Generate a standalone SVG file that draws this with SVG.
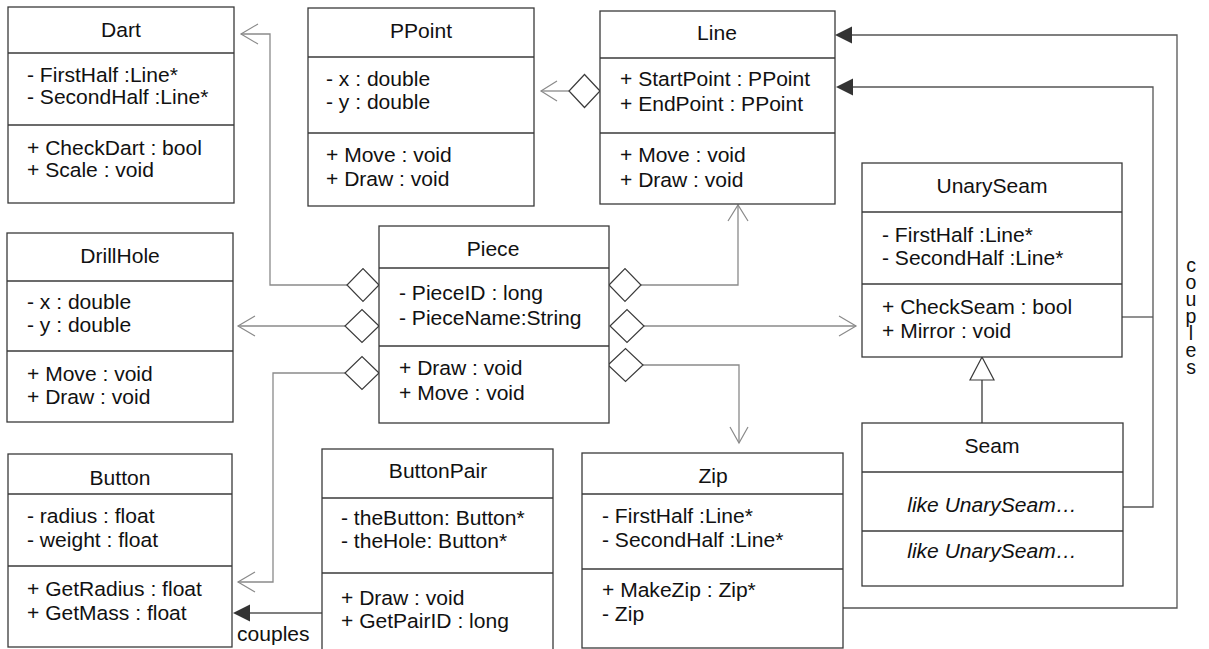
<svg xmlns="http://www.w3.org/2000/svg" width="1209" height="649" viewBox="0 0 1209 649">
<style>
.box{fill:#fff;stroke:#3a3a3a;stroke-width:1.3}
.div{stroke:#3a3a3a;stroke-width:1.3}
.t{font-family:"Liberation Sans",Arial,sans-serif;font-size:19.5px;fill:#111}
.c{text-anchor:middle}
.i{font-style:italic}
.v{writing-mode:vertical-rl;text-orientation:upright;letter-spacing:-5px}
.agg{fill:none;stroke:#8a8a8a;stroke-width:1.3}
.dia{fill:#fff;stroke:#3a3a3a;stroke-width:1.2}
.open{fill:none;stroke:#8a8a8a;stroke-width:1.2}
.cpl{fill:none;stroke:#555;stroke-width:1.3}
.fill{fill:#333;stroke:none}
.gen{fill:#fff;stroke:#3a3a3a;stroke-width:1.2}
</style>
<rect width="1209" height="649" fill="#fff"/>

<g id="connectors">
  <!-- Piece -> Dart -->
  <polyline class="agg" points="347,285 270,285 270,34 241,34"/>
  <polyline class="open" points="258,24 241,34 258,44"/>
  <polygon class="dia" points="379,285 363,268.5 347,285 363,301.5"/>
  <!-- Piece -> DrillHole -->
  <polyline class="agg" points="345,326 238,326"/>
  <polyline class="open" points="255,316 238,326 255,336"/>
  <polygon class="dia" points="379,326 362,309.5 345,326 362,342.5"/>
  <!-- Piece -> Button -->
  <polyline class="agg" points="345,373 273,373 273,582 238,582"/>
  <polyline class="open" points="255,572 238,582 255,592"/>
  <polygon class="dia" points="379,373 362,356.5 345,373 362,389.5"/>
  <!-- Line -> PPoint -->
  <polyline class="agg" points="569,91 541,91"/>
  <polyline class="open" points="557,81 541,91 557,101"/>
  <polygon class="dia" points="600,91 584.5,74.5 569,91 584.5,107.5"/>
  <!-- Piece -> Line -->
  <polyline class="agg" points="641,285 738,285 738,205"/>
  <polyline class="open" points="728,221 738,205 748,221"/>
  <polygon class="dia" points="609,285 625,268.5 641,285 625,301.5"/>
  <!-- Piece -> UnarySeam -->
  <polyline class="agg" points="644,326 856,326"/>
  <polyline class="open" points="839,316 856,326 839,336"/>
  <polygon class="dia" points="610,326 627,309.5 644,326 627,342.5"/>
  <!-- Piece -> Zip -->
  <polyline class="agg" points="643,365 739,365 739,443"/>
  <polyline class="open" points="730,427 739,443 748,427"/>
  <polygon class="dia" points="608,365 625.5,348.5 643,365 625.5,381.5"/>
  <!-- Seam generalizes UnarySeam -->
  <line class="div" x1="982" y1="380" x2="982" y2="423"/>
  <polygon class="gen" points="982,357 970,380 994,380"/>
  <!-- UnarySeam / Seam couples Line -->
  <polyline class="cpl" points="1122,317 1153,317"/>
  <polyline class="cpl" points="1123,507 1153,507 1153,87 853,87"/>
  <polygon class="fill" points="836,87 853,78.5 853,95.5"/>
  <!-- Zip couples Line -->
  <polyline class="cpl" points="843,608 1177,608 1177,35 851,35"/>
  <polygon class="fill" points="835,35 852,26.5 852,43.5"/>
  <!-- ButtonPair couples Button -->
  <polyline class="cpl" points="322,613 249,613"/>
  <polygon class="fill" points="233,613 250,604.5 250,621.5"/>
  <!-- labels -->
  <text class="t" transform="translate(237,641) scale(1.08,1)">couples</text>
  <text class="t v" x="1191" y="254">couples</text>
</g>

<g id="Dart">
  <rect class="box" x="8" y="7" width="226" height="196"/>
  <line class="div" x1="8" y1="53" x2="234" y2="53"/>
  <line class="div" x1="8" y1="125" x2="234" y2="125"/>
  <text class="t c" transform="translate(121,37) scale(1.08,1)">Dart</text>
  <text class="t" transform="translate(27,82) scale(1.08,1)">- FirstHalf :Line*</text>
  <text class="t" transform="translate(27,104) scale(1.08,1)">- SecondHalf :Line*</text>
  <text class="t" transform="translate(27,155) scale(1.08,1)">+ CheckDart : bool</text>
  <text class="t" transform="translate(27,177) scale(1.08,1)">+ Scale : void</text>
</g>

<g id="PPoint">
  <rect class="box" x="308" y="8" width="226" height="198"/>
  <line class="div" x1="308" y1="57" x2="534" y2="57"/>
  <line class="div" x1="308" y1="133" x2="534" y2="133"/>
  <text class="t c" transform="translate(421,38) scale(1.08,1)">PPoint</text>
  <text class="t" transform="translate(326,86) scale(1.08,1)">- x : double</text>
  <text class="t" transform="translate(326,109) scale(1.08,1)">- y : double</text>
  <text class="t" transform="translate(326,162) scale(1.08,1)">+ Move : void</text>
  <text class="t" transform="translate(326,186) scale(1.08,1)">+ Draw : void</text>
</g>

<g id="Line">
  <rect class="box" x="600" y="11" width="235" height="193"/>
  <line class="div" x1="600" y1="58" x2="835" y2="58"/>
  <line class="div" x1="600" y1="133" x2="835" y2="133"/>
  <text class="t c" transform="translate(717,40) scale(1.08,1)">Line</text>
  <text class="t" transform="translate(620,86) scale(1.08,1)">+ StartPoint : PPoint</text>
  <text class="t" transform="translate(620,111) scale(1.08,1)">+ EndPoint : PPoint</text>
  <text class="t" transform="translate(620,162) scale(1.08,1)">+ Move : void</text>
  <text class="t" transform="translate(620,187) scale(1.08,1)">+ Draw : void</text>
</g>

<g id="DrillHole">
  <rect class="box" x="7" y="233" width="226" height="189"/>
  <line class="div" x1="7" y1="281" x2="233" y2="281"/>
  <line class="div" x1="7" y1="351" x2="233" y2="351"/>
  <text class="t c" transform="translate(120,263) scale(1.08,1)">DrillHole</text>
  <text class="t" transform="translate(27,309) scale(1.08,1)">- x : double</text>
  <text class="t" transform="translate(27,332) scale(1.08,1)">- y : double</text>
  <text class="t" transform="translate(27,381) scale(1.08,1)">+ Move : void</text>
  <text class="t" transform="translate(27,404) scale(1.08,1)">+ Draw : void</text>
</g>

<g id="Piece">
  <rect class="box" x="379" y="226" width="230" height="197"/>
  <line class="div" x1="379" y1="268" x2="609" y2="268"/>
  <line class="div" x1="379" y1="346" x2="609" y2="346"/>
  <text class="t c" transform="translate(493,256) scale(1.08,1)">Piece</text>
  <text class="t" transform="translate(399,300) scale(1.08,1)">- PieceID : long</text>
  <text class="t" transform="translate(399,325) scale(1.08,1)">- PieceName:String</text>
  <text class="t" transform="translate(399,375) scale(1.08,1)">+ Draw : void</text>
  <text class="t" transform="translate(399,400) scale(1.08,1)">+ Move : void</text>
</g>

<g id="UnarySeam">
  <rect class="box" x="862" y="163" width="260" height="194"/>
  <line class="div" x1="862" y1="212" x2="1122" y2="212"/>
  <line class="div" x1="862" y1="284" x2="1122" y2="284"/>
  <text class="t c" transform="translate(992,193) scale(1.08,1)">UnarySeam</text>
  <text class="t" transform="translate(882,242) scale(1.08,1)">- FirstHalf :Line*</text>
  <text class="t" transform="translate(882,265) scale(1.08,1)">- SecondHalf :Line*</text>
  <text class="t" transform="translate(882,314) scale(1.08,1)">+ CheckSeam : bool</text>
  <text class="t" transform="translate(882,338) scale(1.08,1)">+ Mirror : void</text>
</g>

<g id="Seam">
  <rect class="box" x="862" y="423" width="261" height="163"/>
  <line class="div" x1="862" y1="472" x2="1123" y2="472"/>
  <line class="div" x1="862" y1="531" x2="1123" y2="531"/>
  <text class="t c" transform="translate(992,453) scale(1.08,1)">Seam</text>
  <text class="t c i" transform="translate(992,512) scale(1.08,1)">like UnarySeam…</text>
  <text class="t c i" transform="translate(992,558) scale(1.08,1)">like UnarySeam…</text>
</g>

<g id="Button">
  <rect class="box" x="8" y="454" width="224" height="193"/>
  <line class="div" x1="8" y1="494" x2="232" y2="494"/>
  <line class="div" x1="8" y1="566" x2="232" y2="566"/>
  <text class="t c" transform="translate(120,485) scale(1.08,1)">Button</text>
  <text class="t" transform="translate(27,523) scale(1.08,1)">- radius : float</text>
  <text class="t" transform="translate(27,547) scale(1.08,1)">- weight : float</text>
  <text class="t" transform="translate(27,596) scale(1.08,1)">+ GetRadius : float</text>
  <text class="t" transform="translate(27,620) scale(1.08,1)">+ GetMass : float</text>
</g>

<g id="ButtonPair">
  <rect class="box" x="322" y="449" width="231" height="205"/>
  <line class="div" x1="322" y1="498" x2="553" y2="498"/>
  <line class="div" x1="322" y1="573" x2="553" y2="573"/>
  <text class="t c" transform="translate(438,478) scale(1.08,1)">ButtonPair</text>
  <text class="t" transform="translate(341,525) scale(1.08,1)">- theButton: Button*</text>
  <text class="t" transform="translate(341,548) scale(1.08,1)">- theHole: Button*</text>
  <text class="t" transform="translate(341,605) scale(1.08,1)">+ Draw : void</text>
  <text class="t" transform="translate(341,628) scale(1.08,1)">+ GetPairID : long</text>
</g>

<g id="Zip">
  <rect class="box" x="582" y="453" width="261" height="195"/>
  <line class="div" x1="582" y1="494" x2="843" y2="494"/>
  <line class="div" x1="582" y1="569" x2="843" y2="569"/>
  <text class="t c" transform="translate(713,483) scale(1.08,1)">Zip</text>
  <text class="t" transform="translate(602,523) scale(1.08,1)">- FirstHalf :Line*</text>
  <text class="t" transform="translate(602,547) scale(1.08,1)">- SecondHalf :Line*</text>
  <text class="t" transform="translate(602,597) scale(1.08,1)">+ MakeZip : Zip*</text>
  <text class="t" transform="translate(602,621) scale(1.08,1)">- Zip</text>
</g>
</svg>
